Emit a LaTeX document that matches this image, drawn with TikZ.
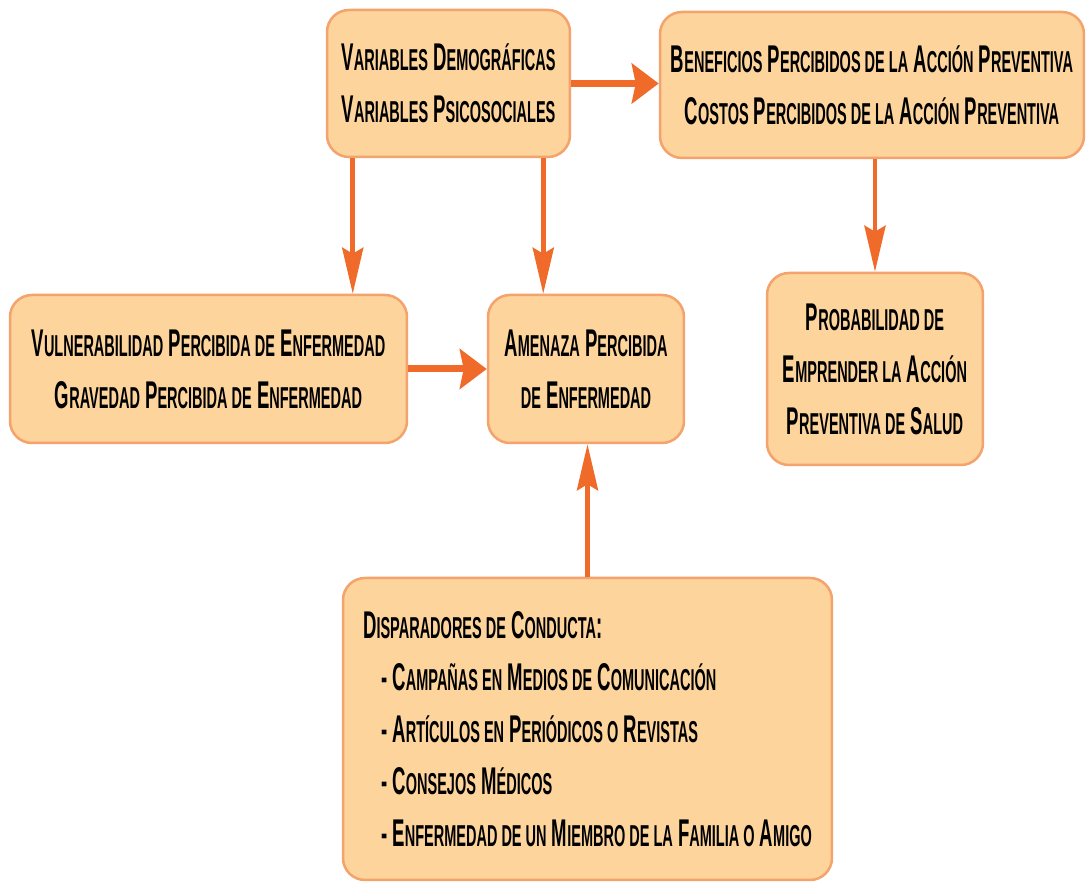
\documentclass[tikz,border=0pt]{standalone}
\usepackage{fontspec}
\setmainfont{Liberation Sans}[FakeStretch=0.48]
\usetikzlibrary{arrows.meta}

\definecolor{boxfill}{HTML}{FDD49B}
\definecolor{boxline}{HTML}{F5A36C}
\definecolor{arrcol}{HTML}{F06A2A}

\newcommand{\sm}[1]{{\fontsize{8.6}{14.8}\selectfont #1}}

\tikzset{
  box/.style = {draw=boxline, fill=boxfill, line width=0.25mm, rounded corners=2.2mm,
                align=center, inner sep=0pt, font=\bfseries\fontsize{11}{14.8}\selectfont},
  varr/.style = {arrcol, line width=0.48mm, -{Stealth[length=4.6mm,width=2.1mm,inset=0.6mm]}},
  harr/.style = {arrcol, line width=0.7mm, -{Stealth[length=2.7mm,width=4mm,inset=0.4mm]}}
}

\begin{document}
\begin{tikzpicture}[x=0.1mm, y=-0.1mm]

\useasboundingbox[fill=white] (0,0) rectangle (1086,883);

% boxes
\node[box, minimum width=24.3mm, minimum height=14.7mm] (vars) at (448.5,83.5)
  {V\sm{ARIABLES} D\sm{EMOGRÁFICAS}\\ V\sm{ARIABLES} P\sm{SICOSOCIALES}};
\node[box, minimum width=42.4mm, minimum height=14.6mm] (benef) at (872,85)
  {B\sm{ENEFICIOS} P\sm{ERCIBIDOS DE LA} A\sm{CCIÓN} P\sm{REVENTIVA}\\
   C\sm{OSTOS} P\sm{ERCIBIDOS DE LA} A\sm{CCIÓN} P\sm{REVENTIVA}};
\node[box, minimum width=39.7mm, minimum height=14.8mm] (vuln) at (208.5,369)
  {V\sm{ULNERABILIDAD} P\sm{ERCIBIDA DE} E\sm{NFERMEDAD}\\
   G\sm{RAVEDAD} P\sm{ERCIBIDA DE} E\sm{NFERMEDAD}};
\node[box, minimum width=19.6mm, minimum height=14.8mm] (amen) at (586,369)
  {A\sm{MENAZA} P\sm{ERCIBIDA}\\ \sm{DE} E\sm{NFERMEDAD}};
\node[box, minimum width=21.6mm, minimum height=19.2mm] (prob) at (875,369)
  {P\sm{ROBABILIDAD DE}\\ E\sm{MPRENDER LA} A\sm{CCIÓN}\\ P\sm{REVENTIVA DE} S\sm{ALUD}};
\node[box, align=left, minimum width=48.9mm, minimum height=30.2mm] (disp) at (587.5,729)
  {D\sm{ISPARADORES DE} C\sm{ONDUCTA}:\\
   \hspace*{1.8mm}- C\sm{AMPAÑAS EN} M\sm{EDIOS DE} C\sm{OMUNICACIÓN}\\
   \hspace*{1.8mm}- A\sm{RTÍCULOS EN} P\sm{ERIÓDICOS O} R\sm{EVISTAS}\\
   \hspace*{1.8mm}- C\sm{ONSEJOS} M\sm{ÉDICOS}\\
   \hspace*{1.8mm}- E\sm{NFERMEDAD DE UN} M\sm{IEMBRO DE LA} F\sm{AMILIA O} A\sm{MIGO}};

% arrows
\draw[harr] (vars.east) -- (vars.east -| benef.west);
\draw[harr] (vuln.east) -- (amen.west);
\draw[varr] ([xshift=2.7mm]vars.south west) -- ([xshift=2.7mm]vars.south west |- vuln.north);
\draw[varr] ([xshift=-2.8mm]vars.south east) -- ([xshift=-2.8mm]vars.south east |- amen.north);
\draw[varr] (prob.north |- benef.south) -- (prob.north);
\draw[varr] (disp.north) -- (disp.north |- amen.south);

\end{tikzpicture}
\end{document}
